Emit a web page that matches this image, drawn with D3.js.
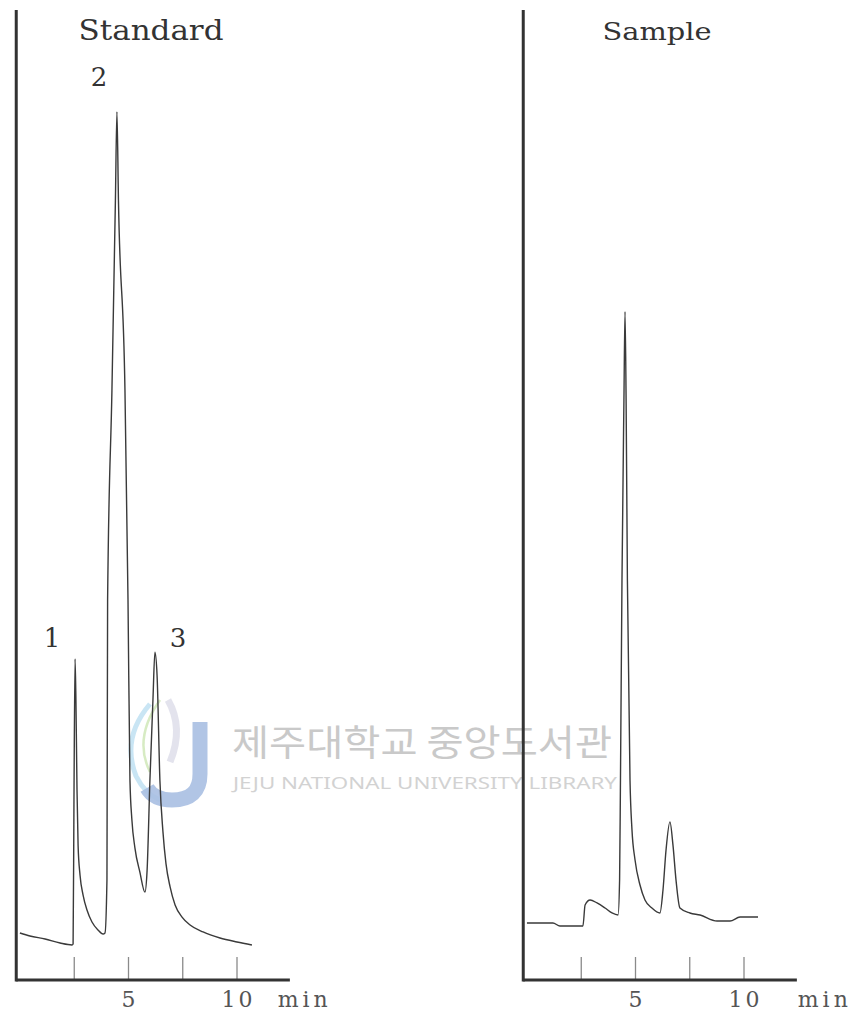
<!DOCTYPE html>
<html>
<head>
<meta charset="utf-8">
<script src="https://cdn.jsdelivr.net/npm/d3@7/dist/d3.min.js"></script>
<style>
  html, body { margin: 0; padding: 0; background: #fff; }
  svg { display: block; }
</style>
</head>
<body>
<svg id="chart" width="857" height="1018"></svg>
<script>
// Retention time (min) and detector response (relative units) for each chromatogram
const standardTime = [0.02, 0.48, 1.18, 1.87, 2.42, 2.47, 2.51, 2.56, 2.60, 2.65, 2.70, 2.79, 2.93, 3.11, 3.34, 3.62, 3.85,
  3.94, 4.03, 4.06, 4.26, 4.42, 4.49, 4.56, 4.86, 5.00, 5.09, 5.18, 5.32, 5.55, 5.78,
  5.88, 6.01, 6.15, 6.24, 6.34, 6.47, 6.61, 6.75, 6.94, 7.17, 7.49, 7.86, 8.46, 9.24, 10.02, 10.71];
const standardSignal = [4.85, 4.54, 4.23, 3.81, 3.61, 3.71, 18.6, 33.1, 28.9, 19.6, 13.9, 10.8, 8.76, 7.22, 5.98, 5.15, 4.74,
  4.85, 10.3, 39.2, 60.8, 80.4, 89.5, 80.4, 60.8, 39.2, 20.6, 16.5, 13.6, 11.1, 9.07,
  11.3, 20.6, 28.9, 33.8, 31.4, 20.6, 15.3, 12.0, 9.59, 7.73, 6.49, 5.67, 4.95, 4.33, 3.92, 3.61];

const sampleTime = [0.02, 1.22, 1.54, 2.60, 2.70, 2.93, 3.25, 3.62, 3.94, 4.22, 4.29, 4.33, 4.40, 4.49, 4.54, 4.59,
  4.65, 4.77, 4.86, 5.00, 5.23, 5.46, 5.78, 6.15, 6.29, 6.43, 6.61, 6.75, 6.89, 7.07,
  7.53, 8.00, 8.78, 9.38, 9.84, 10.67];
const sampleSignal = [5.88, 5.88, 5.57, 5.57, 7.73, 8.25, 7.94, 7.42, 6.91, 6.70, 10.3, 20.6, 41.2, 59.8, 68.9, 59.8,
  41.2, 20.6, 15.5, 12.4, 9.79, 8.25, 7.42, 6.91, 9.28, 13.4, 16.3, 13.9, 10.3, 7.42,
  6.91, 6.70, 6.08, 6.08, 6.49, 6.49];

// Peak numbers on the standard run
const peakIds = ["1", "2", "3"];
const peakTimes = [2.56, 4.49, 6.24];
const peakTops = [33.1, 89.5, 33.8];

// Time axis ticks
const tickValues = [2.5, 5, 7.5, 10];
const tickLabels = ["", "5", "", "10"];
const timeUnit = "min";

const panelTitles = ["Standard", "Sample"];

const svg = d3.select("#chart");
const serif = "'DejaVu Serif', 'Liberation Serif', serif";

// Faint library stamp behind the plots
const stamp = svg.append("g").attr("class", "stamp");
stamp.append("path")
  .attr("d", "M150,704 Q121,738 136,776 Q145,794 160,800")
  .attr("fill", "none").attr("stroke", "#bfe0f2").attr("stroke-width", 5).attr("opacity", 0.85);
stamp.append("path")
  .attr("d", "M160,700 Q133,738 150,772")
  .attr("fill", "none").attr("stroke", "#d3e9bd").attr("stroke-width", 2.5).attr("opacity", 0.9);
stamp.append("path")
  .attr("d", "M168,700 Q184,728 170,762")
  .attr("fill", "none").attr("stroke", "#dcdce8").attr("stroke-width", 7).attr("opacity", 0.8);
stamp.append("path")
  .attr("d", "M200,722 L200,774 Q200,800 172,800 Q154,800 147,788")
  .attr("fill", "none").attr("stroke", "#a9bfe2").attr("stroke-width", 15).attr("opacity", 0.9);
stamp.append("text")
  .attr("x", 232).attr("y", 756)
  .attr("font-family", "'Noto Sans CJK KR', sans-serif").attr("font-size", 36)
  .attr("textLength", 380).attr("lengthAdjust", "spacingAndGlyphs")
  .attr("fill", "#c9c9c9").text("제주대학교 중앙도서관");
stamp.append("text")
  .attr("x", 233).attr("y", 789)
  .attr("font-family", "'Noto Sans', sans-serif").attr("font-size", 17)
  .attr("textLength", 384).attr("lengthAdjust", "spacingAndGlyphs")
  .attr("fill", "#d2d2d2").text("JEJU NATIONAL UNIVERSITY LIBRARY");

// Shared vertical scale
const y = d3.scaleLinear().domain([0, 100]).range([980, 10]);

function drawPanel(originX, time, signal, title, titleX, titleSize, titleWidth, unitAt) {
  const x = d3.scaleLinear().domain([0, 12.5]).range([originX, originX + 12.5 * 21.7]);
  const g = svg.append("g");

  // time ticks with labels at 5 and 10 min
  const axis = d3.axisBottom(x)
    .tickValues(tickValues)
    .tickSize(-23)
    .tickPadding(11)
    .tickFormat((d, i) => tickLabels[i]);
  const ax = g.append("g").attr("transform", `translate(0,${y(0)})`).call(axis);
  ax.select(".domain").remove();
  ax.selectAll(".tick line").attr("stroke", "#8a8a8a").attr("stroke-width", 1.3);
  ax.selectAll(".tick text")
    .attr("font-family", serif).attr("font-size", 22).attr("fill", "#555")
    .attr("letter-spacing", 3).attr("dx", 1.5);

  // unit label after the axis end
  g.append("text")
    .attr("x", x(unitAt)).attr("y", 1007)
    .attr("font-family", serif).attr("font-size", 22).attr("fill", "#555")
    .attr("letter-spacing", 4)
    .text(timeUnit);

  // axis frame
  g.append("line")
    .attr("x1", x(-0.15)).attr("x2", x(12.46))
    .attr("y1", y(0)).attr("y2", y(0))
    .attr("stroke", "#333").attr("stroke-width", 3);
  g.append("line")
    .attr("x1", x(-0.15)).attr("x2", x(-0.15))
    .attr("y1", y(0) + 1.5).attr("y2", y(100))
    .attr("stroke", "#333").attr("stroke-width", 3);

  // chromatogram trace
  const pts = time.map((t, i) => [t, signal[i]]);
  g.append("path")
    .datum(pts)
    .attr("fill", "none")
    .attr("stroke", "#3a3a3a")
    .attr("stroke-width", 1.4)
    .attr("stroke-linejoin", "round")
    .attr("d", d3.line().curve(d3.curveMonotoneX).x(d => x(d[0])).y(d => y(d[1])));

  g.append("text")
    .attr("x", titleX - titleWidth / 2).attr("y", 40)
    .attr("font-family", serif).attr("font-size", titleSize).attr("fill", "#333")
    .attr("textLength", titleWidth).attr("lengthAdjust", "spacingAndGlyphs")
    .text(title);

  return x;
}

const xStd = drawPanel(19.5, standardTime, standardSignal, panelTitles[0], 151, 28, 145, 11.9);
drawPanel(526.5, sampleTime, sampleSignal, panelTitles[1], 657, 25, 109, 12.5);

// peak numbers
const labelOffsetX = [-23, -18, 23];
const labelGap = [12, 26, 5];
svg.append("g").selectAll("text")
  .data(peakIds)
  .join("text")
  .attr("x", (d, i) => xStd(peakTimes[i]) + labelOffsetX[i])
  .attr("y", (d, i) => y(peakTops[i]) - labelGap[i])
  .attr("text-anchor", "middle")
  .attr("font-family", serif).attr("font-size", 26).attr("fill", "#333")
  .text(d => d);
</script>
</body>
</html>
